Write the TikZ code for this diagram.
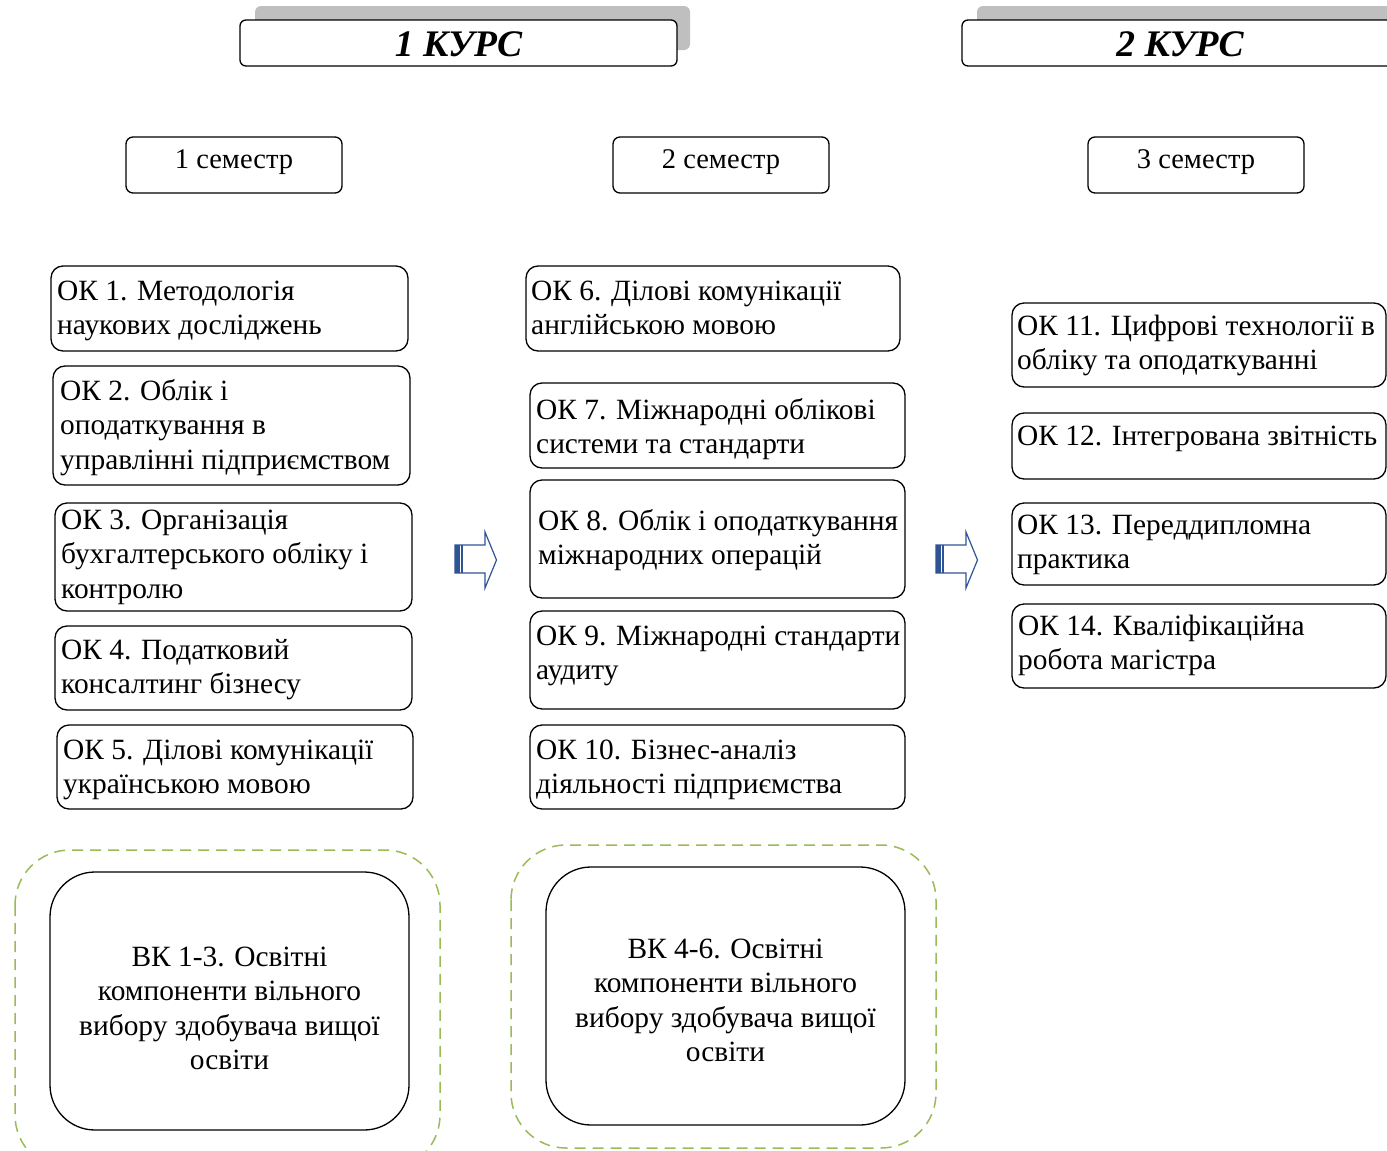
\documentclass[tikz,border=0pt]{standalone}
\usepackage{fontspec}
\setmainfont{Liberation Serif}
\newcommand\oktext{\fontsize{29.4}{34.5}\selectfont}
\newcommand\semtext{\fontsize{28.5}{34.5}\selectfont}
\newcommand\hdrtext{\fontsize{37.5}{44}\selectfont\bfseries\itshape}
\newcommand\tstrut{\rule{0pt}{28pt}}
\definecolor{dgreen}{RGB}{155,187,89}
\definecolor{ablue}{RGB}{47,84,150}
\definecolor{shadowgray}{RGB}{191,191,191}
\tikzset{
  okbox/.style={draw, line width=1.3pt, rounded corners=12pt, inner sep=0pt, outer sep=0pt},
  sembox/.style={draw, line width=1.3pt, rounded corners=7pt, inner sep=0pt, outer sep=0pt},
  hdrbox/.style={draw, fill=white, line width=1.3pt, rounded corners=6pt, inner sep=0pt, outer sep=0pt},
  vkbox/.style={draw, line width=1.3pt, rounded corners=45pt, inner sep=0pt, outer sep=0pt},
  dashbox/.style={draw=dgreen, line width=1.5pt, dash pattern=on 11pt off 7pt, rounded corners=55pt},
  oktxt/.style={anchor=north west, inner sep=0pt, align=left, font=\oktext},
  blockarrow/.style={draw=ablue, line width=1.2pt, line join=miter},
}
% name, x1, y1, x2, y2, text x, first baseline, text
\newcommand\okbox[8]{%
  \node[okbox, minimum width={(#4-#2)*1pt}, minimum height={(#5-#3)*1pt}] (#1) at ({(#2+#4)/2},{(#3+#5)/2}) {};
  \node[oktxt] (#1t) at ({#6},{#7-28}) {\tstrut#8};
}
\newcommand\arrowshape[1]{%
  \begin{scope}[xshift=#1]
  \draw[blockarrow] (455,545) -- (485,545) -- (485,532) -- (496.5,560) -- (485,588) -- (485,573) -- (455,573) -- cycle;
  \fill[ablue] (455,545) rectangle (459.5,573);
  \draw[ablue, line width=1.2pt] (462,545) -- (462,573);
  \end{scope}
}
\begin{document}
\begin{tikzpicture}[x=1pt,y=-1pt]
\useasboundingbox (0,0) rectangle (1387,1151);
\fill[white] (0,0) rectangle (1387,1151);

% headers
\fill[shadowgray, rounded corners=6pt] (255,6) rectangle (690,50);
\node[hdrbox, minimum width=437pt, minimum height=46pt] (k1) at (458.5,43) {};
\node[anchor=base, font=\hdrtext] (k1t) at (458.5,56) {1 КУРС};
\fill[shadowgray, rounded corners=6pt] (977,6) rectangle (1420,50);
\node[hdrbox, minimum width=460pt, minimum height=46pt] (k2) at (1192,43) {};
\node[anchor=base, font=\hdrtext] (k2t) at (1180,56) {2 КУРС};

% semesters
\node[sembox, minimum width=216pt, minimum height=56pt] (s1) at (234,165) {};
\node[anchor=base, font=\semtext] (s1t) at (234,168) {1 семестр};
\node[sembox, minimum width=216pt, minimum height=56pt] (s2) at (721,165) {};
\node[anchor=base, font=\semtext] (s2t) at (721,168) {2 семестр};
\node[sembox, minimum width=216pt, minimum height=56pt] (s3) at (1196,165) {};
\node[anchor=base, font=\semtext] (s3t) at (1196,168) {3 семестр};

% column 1
\okbox{ok1}{51}{266}{408}{351}{57}{300}{ОК 1. Методологія\\наукових досліджень}
\okbox{ok2}{53}{366}{410}{485}{60}{400}{ОК 2. Облік і\\оподаткування в\\управлінні підприємством}
\okbox{ok3}{55}{503}{412}{611}{61}{529}{ОК 3. Організація\\бухгалтерського обліку і\\контролю}
\okbox{ok4}{55}{626}{412}{710}{61}{659}{ОК 4. Податковий\\консалтинг бізнесу}
\okbox{ok5}{57}{725}{413}{809}{63}{759}{ОК 5. Ділові комунікації\\українською мовою}

% column 2
\okbox{ok6}{526}{266}{900}{351}{531}{300}{ОК 6. Ділові комунікації\\англійською мовою}
\okbox{ok7}{530}{383}{905}{468}{536}{419}{ОК 7. Міжнародні облікові\\системи та стандарти}
\okbox{ok8}{530}{480}{905}{598}{538}{530}{ОК 8. Облік і оподаткування\\міжнародних операцій}
\okbox{ok9}{530}{611}{905}{709}{536}{645}{ОК 9. Міжнародні стандарти\\аудиту}
\okbox{ok10}{530}{725}{905}{809}{536}{759}{ОК 10. Бізнес-аналіз\\діяльності підприємства}

% column 3
\okbox{ok11}{1012}{303}{1386}{387}{1017}{335}{ОК 11. Цифрові технології в\\обліку та оподаткуванні}
\okbox{ok12}{1012}{413}{1386}{479}{1017}{445}{ОК 12. Інтегрована звітність}
\okbox{ok13}{1012}{503}{1386}{585}{1017}{534}{ОК 13. Переддипломна\\практика}
\okbox{ok14}{1012}{604}{1386}{688}{1018}{635}{ОК 14. Кваліфікаційна\\робота магістра}

% arrows
\arrowshape{0pt}
\arrowshape{481pt}

% elective blocks
\draw[dashbox] (15,850) rectangle (440,1170);
\node[vkbox, minimum width=359pt, minimum height=258pt] (vk1) at (229.5,1001) {};
\node[anchor=north, align=center, inner sep=0pt, font=\oktext] (vk1t) at (229.5,938) {\tstrut ВК 1-3. Освітні\\компоненти вільного\\вибору здобувача вищої\\освіти};

\draw[dashbox] (511,845) rectangle (936,1148);
\node[vkbox, minimum width=359pt, minimum height=258pt] (vk2) at (725.5,996) {};
\node[anchor=north, align=center, inner sep=0pt, font=\oktext] (vk2t) at (725.5,930) {\tstrut ВК 4-6. Освітні\\компоненти вільного\\вибору здобувача вищої\\освіти};
\end{tikzpicture}
\end{document}
